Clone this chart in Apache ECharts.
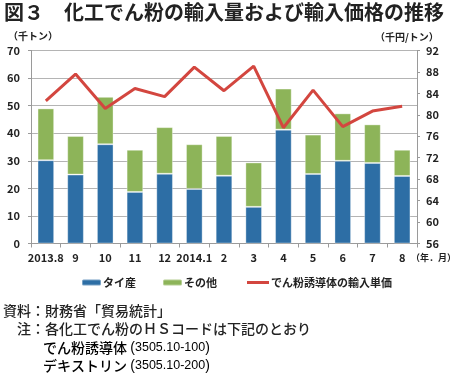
<!DOCTYPE html>
<html><head><meta charset="utf-8">
<script src="https://cdn.jsdelivr.net/npm/echarts@6/dist/echarts.min.js"></script>
<style>html,body{margin:0;padding:0;background:#fff}#c{width:450px;height:378px}</style>
</head><body><div id="c"></div>
<script>
const categories = ["2013.8","9","10","11","12","2014.1","2","3","4","5","6","7","8"];
const thai = [30.2, 25.0, 36.0, 18.7, 25.3, 19.8, 24.6, 13.3, 41.3, 25.2, 30.0, 29.2, 24.5];
const other = [18.8, 14.0, 17.2, 15.3, 16.9, 16.2, 14.4, 16.1, 14.9, 14.3, 17.2, 14.0, 9.5];
const price = [82.6, 87.6, 81.2, 84.9, 83.4, 88.9, 84.5, 89.1, 77.6, 84.6, 77.8, 80.7, 81.6];
const leftTicks = {min: 0, max: 70, interval: 10};
const rightTicks = {min: 56, max: 92, interval: 4};
const names = ["タイ産", "その他", "でん粉誘導体の輸入単価"];

const FONT = '"Noto Sans CJK JP", "Noto Sans", sans-serif';
const NARROW = '"Liberation Sans Narrow", "Liberation Sans", sans-serif';
const chart = echarts.init(document.getElementById('c'), null, {renderer: 'canvas'});
const axisLabel = {fontFamily: FONT, fontSize: 11, fontWeight: 'bold', color: '#222'};
const legendBase = {top: 277, itemWidth: 19, itemHeight: 6, textStyle: {fontFamily: FONT, fontSize: 11, fontWeight: 'bold', color: '#222', padding: [0,0,0,-3]}, padding: 0};
const noteRich = {
  k: {fontFamily: FONT, fontSize: 14, fontWeight: 500, color: '#222'},
  p: {fontFamily: NARROW, fontSize: 14, color: '#222'},
  d: {fontFamily: NARROW, fontSize: 12.5, color: '#222'}
};
function txt(x, y, text, font, extra) {
  return {type: 'text', x: x, y: y, style: Object.assign({text: text, font: font, fill: '#222', textVerticalAlign: 'middle', verticalAlign: 'middle'}, extra || {})};
}
chart.setOption({
  animation: false,
  grid: {left: 31, right: 33, top: 50.5, bottom: 134.5},
  legend: [
    Object.assign({}, legendBase, {left: 81, data: [names[0]]}),
    Object.assign({}, legendBase, {left: 162, data: [names[1]]}),
    Object.assign({}, legendBase, {left: 247, itemWidth: 22, data: [{name: names[2], icon: 'rect', itemStyle: {color: '#D3463F'}}], itemHeight: 3}),
  ],
  xAxis: {
    type: 'category', data: categories, boundaryGap: true,
    axisLine: {lineStyle: {color: '#9a9a9a', width: 1}},
    axisTick: {show: true, length: 4, lineStyle: {color: '#9a9a9a'}},
    axisLabel: Object.assign({margin: 9, interval: 0}, axisLabel)
  },
  yAxis: [
    {type: 'value', min: leftTicks.min, max: leftTicks.max, interval: leftTicks.interval,
     axisLine: {show: true, lineStyle: {color: '#9a9a9a'}},
     axisTick: {show: true, length: 3, lineStyle: {color: '#9a9a9a'}},
     splitLine: {show: true, lineStyle: {color: '#b4b4b4', width: 1}},
     axisLabel: Object.assign({margin: 11}, axisLabel)},
    {type: 'value', min: rightTicks.min, max: rightTicks.max, interval: rightTicks.interval, position: 'right',
     axisLine: {show: true, lineStyle: {color: '#9a9a9a'}},
     axisTick: {show: true, length: 3, lineStyle: {color: '#9a9a9a'}},
     splitLine: {show: false},
     axisLabel: Object.assign({margin: 9}, axisLabel)}
  ],
  series: [
    {name: names[0], type: 'bar', stack: 'a', data: thai, barWidth: '56%',
     itemStyle: {color: '#2D6EA5', borderColor: 'rgba(255,255,255,0.35)', borderWidth: 1}},
    {name: names[1], type: 'bar', stack: 'a', data: other, barWidth: '56%',
     itemStyle: {color: '#8DB459', borderColor: 'rgba(255,255,255,0.35)', borderWidth: 1}},
    {name: names[2], type: 'line', yAxisIndex: 1, data: price, symbol: 'none',
     lineStyle: {color: '#D3463F', width: 3}, itemStyle: {color: '#D3463F'}}
  ],
  graphic: [
    txt(4, 12, '図３　化工でん粉の輸入量および輸入価格の推移', 'bold 20px ' + FONT),
    txt(8, 36, '（千トン）', 'bold 10px ' + FONT),
    txt(375, 37, '（千円/トン）', 'bold 10px ' + FONT),
    txt(411, 258, '（年．月）', 'bold 9px ' + FONT),
    txt(3, 311, '資料：財務省「貿易統計」', '500 14px ' + FONT),
    txt(17, 329, '注：各化工でん粉のＨＳコードは下記のとおり', '500 14px ' + FONT),
    {type: 'text', x: 43, y: 348, style: {text: '{k|でん粉誘導体} {p|(}{d|3505.10-100}{p|)}', rich: noteRich, verticalAlign: 'middle', textVerticalAlign: 'middle'}},
    {type: 'text', x: 43, y: 366, style: {text: '{k|デキストリン} {p|(}{d|3505.10-200}{p|)}', rich: noteRich, verticalAlign: 'middle', textVerticalAlign: 'middle'}}
  ]
});
</script></body></html>
